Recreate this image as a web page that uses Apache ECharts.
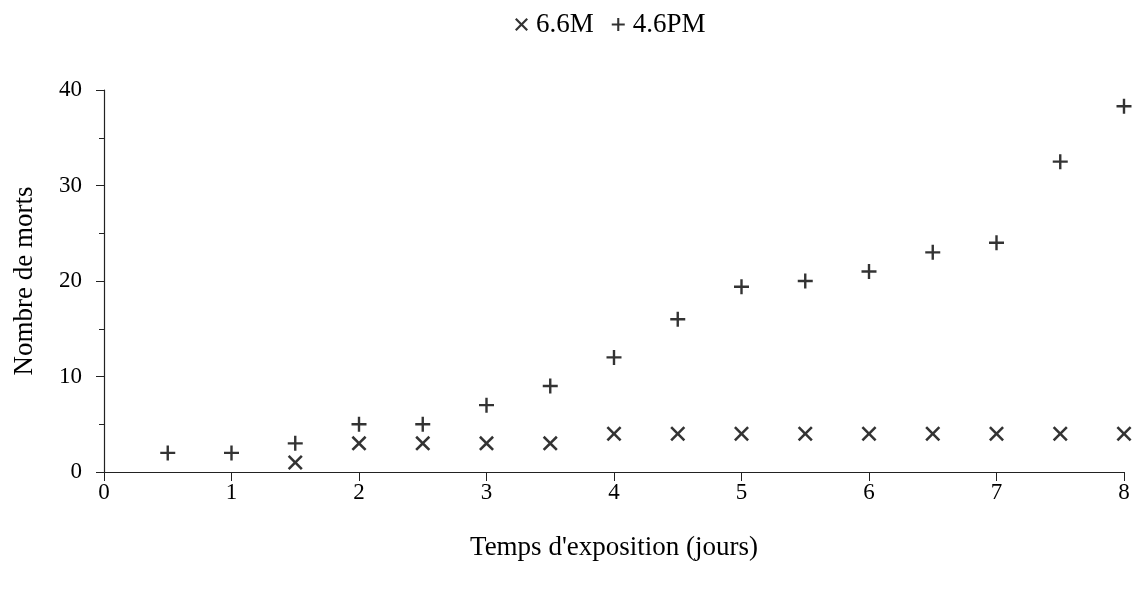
<!DOCTYPE html>
<html>
<head>
<meta charset="utf-8">
<script src="https://cdn.jsdelivr.net/npm/echarts@6/dist/echarts.min.js"></script>
<style>
  html, body { margin: 0; padding: 0; background: #fff; }
  #chart { width: 1144px; height: 592px; }
</style>
</head>
<body>
<div id="chart"></div>
<script>
// temps d'exposition (jours)
const timesPM = [0.5, 1, 1.5, 2, 2.5, 3, 3.5, 4, 4.5, 5, 5.5, 6, 6.5, 7, 7.5, 8]
const deathsPM = [2, 2, 3, 5, 5, 7, 9, 12, 16, 19.4, 20, 21, 23, 24, 32.5, 38.3]
const timesM = [1.5, 2, 2.5, 3, 3.5, 4, 4.5, 5, 5.5, 6, 6.5, 7, 7.5, 8]
const deathsM = [1, 3, 3, 3, 3, 4, 4, 4, 4, 4, 4, 4, 4, 4]

const serieNames = ['6.6M', '4.6PM']

const plusPath = 'path://M42,0H58V42H100V58H58V100H42V58H0V42H42Z'
const crossPath = 'path://M0,12L12,0L50,38L88,0L100,12L62,50L100,88L88,100L50,62L12,100L0,88L38,50Z'
const font = '"Liberation Serif", "Times New Roman", serif'

const pairs = (xs, ys) => xs.map((x, i) => [x, ys[i]])

const chart = echarts.init(document.getElementById('chart'))
chart.setOption({
  animation: false,
  textStyle: { fontFamily: font, color: '#000' },
  legend: {
    top: 6,
    left: 510,
    itemGap: 18,
    itemWidth: 13,
    itemHeight: 13,
    textStyle: { fontFamily: font, fontSize: 27, color: '#000', padding: [0, 0, 0, 3] },
    data: serieNames
  },
  grid: { left: 104, right: 20, top: 90, bottom: 120 },
  xAxis: {
    type: 'value',
    min: 0,
    max: 8,
    interval: 1,
    name: "Temps d'exposition (jours)",
    nameLocation: 'middle',
    nameGap: 62,
    nameTextStyle: { fontFamily: font, fontSize: 27, color: '#000' },
    axisLine: { show: true, onZero: false, lineStyle: { color: '#222', width: 1.2 } },
    axisTick: { show: true, length: 9, lineStyle: { color: '#222' } },
    axisLabel: { fontFamily: font, fontSize: 23, color: '#000', margin: 9 },
    splitLine: { show: false }
  },
  yAxis: {
    type: 'value',
    min: 0,
    max: 40,
    interval: 10,
    name: 'Nombre de morts',
    nameLocation: 'middle',
    nameGap: 66,
    nameTextStyle: { fontFamily: font, fontSize: 27, color: '#000' },
    axisLine: { show: true, lineStyle: { color: '#222', width: 1.2 } },
    axisTick: { show: true, length: 8, lineStyle: { color: '#222' } },
    minorTick: { show: true, splitNumber: 2, length: 5, lineStyle: { color: '#222' } },
    axisLabel: { fontFamily: font, fontSize: 23, color: '#000', margin: 22 },
    splitLine: { show: false }
  },
  series: [
    {
      name: serieNames[0],
      type: 'scatter',
      symbol: crossPath,
      symbolSize: 15,
      itemStyle: { color: '#000' },
      data: pairs(timesM, deathsM)
    },
    {
      name: serieNames[1],
      type: 'scatter',
      symbol: plusPath,
      symbolSize: 15,
      itemStyle: { color: '#000' },
      data: pairs(timesPM, deathsPM)
    }
  ]
})
</script>
</body>
</html>
